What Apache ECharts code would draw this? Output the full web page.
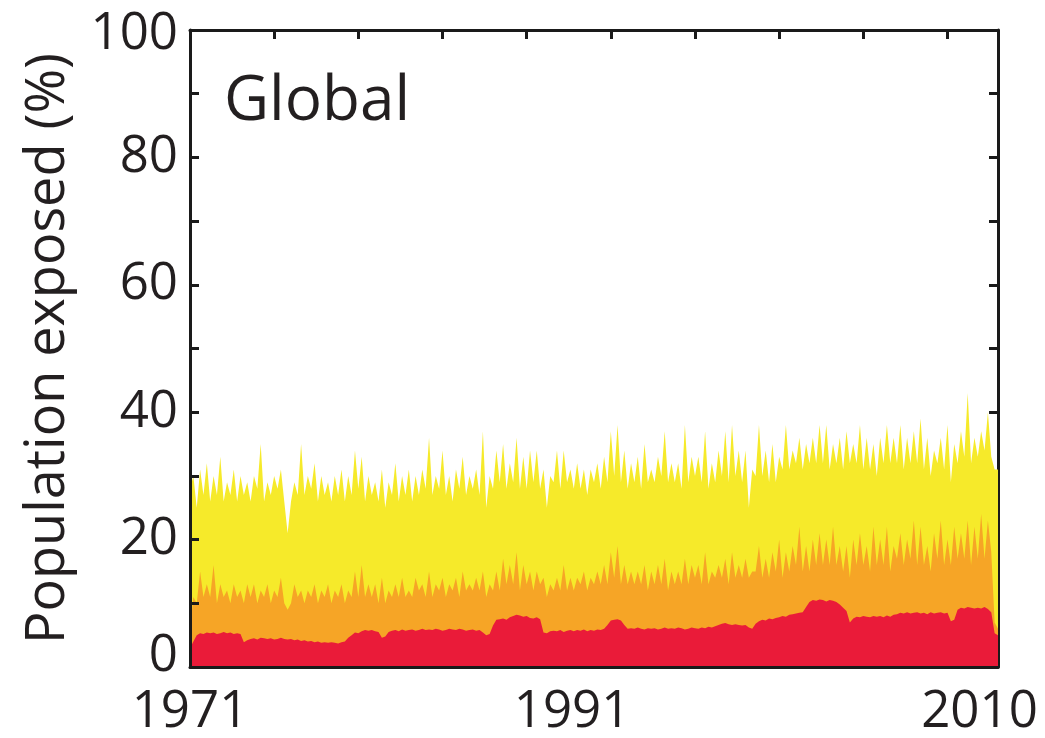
<!DOCTYPE html>
<html><head><meta charset="utf-8">
<script src="https://cdn.jsdelivr.net/npm/echarts@6/dist/echarts.min.js"></script>
<style>html,body{margin:0;padding:0;background:#fff}#c{width:1045px;height:738px}</style>
</head><body><div id="c"></div>
<script>
// x tick labels
const yearLabels = ['1971', '1991', '2010'];
const yTickLabels = ['0', '20', '40', '60', '80', '100'];

// Population exposed (%), cumulative tops, bi-monthly from Jan 1971 to end of 2010 (6 values per year)
const totalTop = [
 28,30,25,31,27,32,  26,30,27,33,26,29,  27,31,26,30,27,29,  26,30,28,35,26,29,  27,30,28,31,26,21,
 26,29,27,35,27,30,  28,32,26,30,27,29,  26,30,27,31,26,30,  27,34,28,33,26,30,  27,29,26,31,25,29,
 27,32,26,30,27,31,  26,30,27,31,28,36,  27,30,28,34,27,30,  26,31,28,33,27,30,  28,31,27,37,25,30,
 28,34,29,35,28,32,  29,36,28,33,28,34,  29,34,28,31,25,30,  29,34,28,34,29,31,  28,32,28,31,27,31,
 29,32,28,33,29,37,  30,38,29,34,28,32,  29,33,28,35,29,31,  29,33,30,37,29,32,  29,32,28,38,29,33,
 30,33,29,37,28,32,  29,34,30,37,29,38,  30,34,29,34,25,31,  30,38,30,34,29,35,  29,33,31,38,31,34,
 32,36,31,35,32,36,  32,38,32,38,31,35,  32,36,31,37,32,35,  32,38,31,36,31,35,  30,36,32,38,32,36,
 32,38,31,36,32,37,  32,39,31,36,30,34,  32,36,31,38,29,35,  32,37,33,43,32,36,  33,37,34,40,33,31,
 31
];
const orangeTop = [
 6,11,10,15,11,13,  11,16,10,13,11,12,  10,13,11,12,10,13,  11,13,10,12,11,13,  10,12,11,14,10,9,
 10,13,11,12,10,12,  11,13,10,12,11,13,  10,12,11,13,10,12,  11,15,11,16,11,13,  11,13,10,14,10,12,
 11,13,11,14,11,12,  11,14,12,13,11,15,  11,13,12,14,11,13,  12,14,11,15,12,13,  12,14,12,15,11,13,
 12,15,12,17,13,16,  13,18,12,16,13,15,  12,15,13,14,11,13,  12,14,12,16,12,14,  12,14,13,15,12,14,
 13,15,13,16,13,18,  14,19,13,16,13,15,  13,15,13,16,12,15,  13,16,13,17,12,15,  13,15,13,17,13,16,
 14,16,13,18,13,15,  14,16,14,17,13,18,  14,16,14,17,14,15,  15,19,14,17,14,18,  15,20,14,18,15,19,
 16,22,15,19,15,20,  16,21,16,20,16,22,  16,19,15,19,14,20,  16,21,16,19,15,22,  16,20,16,22,15,19,
 17,21,16,20,17,23,  16,22,16,19,15,21,  17,23,16,20,16,22,  17,21,17,23,16,22,  17,24,17,23,18,7,
 6
];
const redTop = [
 3.0,4.0,5.0,5.3,5.2,5.4,  5.3,5.4,5.2,5.3,5.5,5.3,  5.4,5.2,5.3,5.2,3.9,4.2,  4.4,4.5,4.3,4.6,4.5,4.4,  4.5,4.3,4.4,4.6,4.4,4.3,
 4.4,4.2,4.3,4.1,4.2,4.0,  4.1,3.9,4.0,3.8,3.9,3.8,  3.9,3.8,3.7,3.9,4.0,4.6,  5.0,5.4,5.3,5.6,5.8,5.7,  5.8,5.6,5.5,4.6,4.8,5.5,
 5.7,5.8,5.6,5.9,5.7,5.8,  5.9,5.7,5.8,6.0,5.8,5.9,  5.8,6.0,5.9,5.7,5.8,6.0,  5.9,5.8,6.0,5.9,5.7,5.8,  5.9,5.7,5.8,5.4,5.0,5.2,
 6.5,7.4,7.5,7.6,7.4,7.8,  8.0,8.2,8.1,7.9,8.0,7.7,  7.6,7.8,7.5,5.4,5.3,5.6,  5.7,5.6,5.8,5.5,5.7,5.8,  5.6,5.8,5.7,5.9,5.6,5.8,
 5.7,5.9,5.8,6.0,6.6,7.3,  7.4,7.5,7.3,6.6,6.0,6.1,  6.0,6.2,6.0,5.9,6.1,6.0,  6.1,5.9,6.0,6.2,6.0,6.1,  6.0,6.2,6.1,5.9,6.0,6.2,
 6.1,6.0,6.2,6.1,6.3,6.2,  6.4,6.6,6.8,6.9,6.7,6.6,  6.7,6.6,6.5,6.6,6.2,6.0,  6.8,7.2,7.4,7.3,7.6,7.5,  7.7,7.8,8.0,7.9,8.2,8.3,
 8.4,8.5,8.6,9.4,10.2,10.5,  10.4,10.6,10.5,10.3,10.5,10.4,  10.2,9.8,9.3,8.8,7.0,7.6,  7.9,7.8,8.0,7.9,7.8,8.0,  7.9,8.0,7.8,8.1,7.9,8.2,
 8.3,8.5,8.4,8.6,8.4,8.5,  8.6,8.4,8.5,8.3,8.6,8.4,  8.5,8.6,8.4,8.5,7.2,7.4,  9.0,9.3,9.2,9.4,9.3,9.2,  9.3,9.2,9.4,9.1,8.6,5.3,
 5.0
];

const FONT = 'Open Sans';
const INK = '#231f20';
const pairs = arr => arr.map((v, i) => [i * 2, v]); // month index since Jan 1971
const labelMonths = [0, 227, 469];
const monthTicks = [50, 100, 150, 200, 250, 300, 350, 400, 450];

const chart = echarts.init(document.getElementById('c'), null, {renderer: 'canvas'});
const axisLine = {show: true, onZero: false, lineStyle: {color: '#1a1a1a', width: 3}};
const tickInside = {show: true, inside: true, length: 9, lineStyle: {color: '#1a1a1a', width: 3}};
function area(name, data, color) {
  return {
    name, type: 'line', data: pairs(data), symbol: 'none', smooth: false, sampling: null,
    lineStyle: {width: 0}, areaStyle: {color, opacity: 1}, silent: true, animation: false, z: 2
  };
}
chart.setOption({
  animation: false,
  backgroundColor: '#ffffff',
  title: {text: 'Global', left: 219, top: 66, textStyle: {fontFamily: FONT, fontSize: 62, fontWeight: 'normal', color: INK}},
  grid: {left: 190, right: 47, top: 30, bottom: 71, containLabel: false},
  xAxis: [
    {type: 'value', min: 0, max: 480, position: 'bottom', z: 5, axisLine,
     axisTick: {show: false},
     axisLabel: {customValues: labelMonths, margin: 20, fontFamily: FONT, fontSize: 51, color: INK,
       formatter: v => yearLabels[labelMonths.indexOf(v)] || ''},
     splitLine: {show: false}},
    {type: 'value', min: 0, max: 480, position: 'top', z: 0, axisLine,
     axisTick: Object.assign({}, tickInside, {customValues: monthTicks}),
     axisLabel: {show: false}, splitLine: {show: false}}
  ],
  yAxis: [
    {type: 'value', min: 0, max: 100, interval: 10, position: 'left', z: 5, axisLine, axisTick: tickInside,
     axisLabel: {interval: 1, margin: 12, fontFamily: FONT, fontSize: 51, color: INK,
       formatter: v => {
         if (v % 20 !== 0) return '';
         const s = yTickLabels[v / 20];
         if (v === 0) return '{lo|' + s + '}';
         if (v === 100) return '{hi|' + s + '}';
         return s;
       },
       rich: {
         lo: {fontFamily: FONT, fontSize: 51, color: INK, padding: [0, 0, 22, 0]},
         hi: {fontFamily: FONT, fontSize: 51, color: INK, padding: [8, 0, 0, 0]}
       }},
     name: 'Population exposed (%)', nameLocation: 'middle', nameGap: 114, nameRotate: 90,
     nameTextStyle: {fontFamily: FONT, fontSize: 54, color: INK},
     splitLine: {show: false}},
    {type: 'value', min: 0, max: 100, interval: 10, position: 'right', z: 0, axisLine, axisTick: tickInside,
     axisLabel: {show: false}, splitLine: {show: false}}
  ],
  series: [
    area('Yellow', totalTop, '#f6ea2a'),
    area('Orange', orangeTop, '#f6a526'),
    area('Red', redTop, '#ea1b39')
  ]
});
</script>
</body></html>
